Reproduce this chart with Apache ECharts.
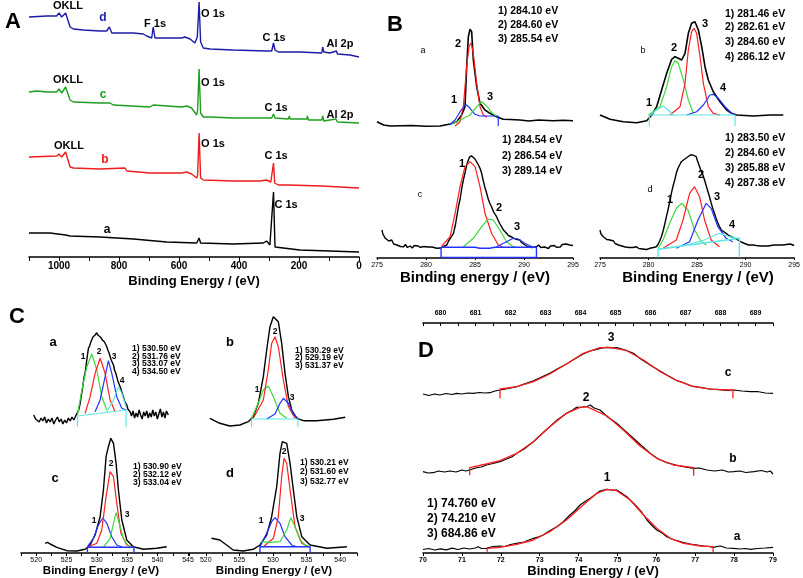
<!DOCTYPE html>
<html>
<head>
<meta charset="utf-8">
<script src="https://cdn.jsdelivr.net/npm/echarts@6/dist/echarts.min.js"></script>
<style>
  html, body { margin: 0; padding: 0; background: #fff; }
  #chart { width: 803px; height: 578px; }
</style>
</head>
<body>
<div id="chart"></div>
<script>
"use strict";
// ---- A: survey spectra [binding energy, intensity a.u.] ----
var surveyD = [[1100,240],[1041,241],[1008,241],[1000,244],[991,240],[978,244],[963,230],[952,228],[919,227],[863,226],[841,226],[832,230],[824,224],[752,224],[719,223],[708,221],[691,219],[686,230],[680,219],[619,219],[591,219],[580,220],[563,218],[547,214],[539,220],[533,255],[528,215],[524,217],[519,209],[497,208],[419,207],[308,206],[291,206],[285,214],[280,207],[269,205],[197,205],[124,204],[121,210],[117,205],[97,204],[75,206],[72,203],[30,202],[0,200]];
var surveyC = [[1100,165],[1074,166],[1041,165],[1008,165],[1000,168],[991,164],[978,170],[963,157],[952,155],[863,154],[830,154],[819,152],[697,150],[686,152],[680,150],[591,150],[574,151],[558,149],[541,142],[538,147],[533,188],[528,144],[524,145],[519,140],[497,140],[419,139],[291,139],[285,143],[280,139],[236,138],[232,141],[230,138],[174,138],[172,141],[169,137],[124,137],[121,141],[117,136],[77,138],[72,135],[0,134]];
var surveyB = [[1100,100],[1008,101],[1000,103],[991,100],[978,105],[963,90],[952,89],[863,88],[780,89],[774,86],[697,84],[591,84],[574,85],[558,83],[541,79],[538,82],[533,124],[528,79],[519,77],[419,76],[330,76],[308,77],[294,75],[288,74],[285,94],[281,74],[269,72],[236,72],[232,74],[230,71],[124,71],[0,69]];
var surveyA = [[1100,24],[1030,24],[978,22],[974,24],[963,21],[863,20],[752,18],[641,15],[541,14],[533,19],[528,14],[419,13],[319,14],[308,16],[297,12],[291,10],[285,65],[280,10],[274,9],[197,7],[0,5]];

// ---- B: C 1s fits ----
var bA_raw = [[275,8.3],[275.68,5],[276.36,4],[278.5,4.5],[280,3.8],[281.44,4],[282.46,6],[283.14,8.3],[283.64,15],[283.98,23.3],[284.15,63.3],[284.32,93.3],[284.49,100.7],[284.66,98.3],[284.83,70],[285.17,43.3],[285.51,26.7],[286.02,20],[286.53,16.7],[287.2,13.3],[287.88,10.7],[288.6,10.5],[289.58,10],[290.5,9],[291.5,10],[292.97,9.3],[294,9.8],[295,9.3]];
var bA_p1 = [[282.36,5],[282.97,10],[283.47,18.3],[283.92,24],[284.15,25],[284.49,21.7],[285.0,15.7],[285.51,14],[287.37,14],[287.37,4]];
var bA_p2 = [[282.97,4],[283.47,8.3],[283.81,23.3],[284.15,63.3],[284.39,83.3],[284.59,87.3],[284.83,76.7],[285.17,46.7],[285.51,23.3],[285.85,15],[286.19,12.7]];
var bA_p3 = [[282.63,6],[283.47,10],[284.49,15],[285.17,23.3],[285.68,28.3],[286.19,24],[286.69,17.3],[287.2,14]];

var bB_raw = [[275,15],[276.03,10.7],[277.39,8.3],[278.76,7.3],[279.79,9.3],[280.3,15],[280.81,23.3],[281.32,40],[281.84,56.7],[282.35,70.7],[282.69,73.3],[283.03,71.7],[283.38,70],[283.72,76.7],[284.06,96.7],[284.4,106.7],[284.74,108.3],[285.09,100],[285.43,83.3],[285.77,63.3],[286.11,50],[286.62,38.3],[287.31,28.3],[287.99,20],[288.5,16.7],[289.02,15],[290.73,14],[292.44,15],[293.8,15]];
var bB_p1 = [[280.13,15],[280.81,20],[281.5,24],[282.01,20],[282.52,15]];
var bB_p2 = [[279.96,15],[281.15,23.3],[281.84,43.3],[282.35,63.3],[282.69,69.3],[283.03,66.7],[283.55,50],[284.06,30],[284.57,16.7]];
var bB_p3 = [[282.18,15],[283.21,23.3],[283.72,46.7],[284.06,80],[284.4,98.3],[284.64,101.7],[284.91,96.7],[285.26,73.3],[285.6,46.7],[286.11,23.3],[286.62,16.7],[287.31,15]];
var bB_p4 = [[283.89,15],[284.91,18.3],[285.6,25],[286.28,35],[286.62,35.7],[287.14,31.7],[287.82,23.3],[288.5,16.7],[288.85,15]];
var bB_base = [[280.06,4],[280.06,15],[288.85,15],[288.85,4]];

var bC_raw = [[275.51,28],[275.6,24],[275.7,26],[275.85,19.7],[276.0,21],[276.2,17],[276.36,16.3],[276.5,18],[276.7,14],[276.85,15.5],[277.03,13],[277.2,15],[277.4,11.5],[277.55,13.5],[277.71,11.3],[277.9,13.5],[278.1,10.5],[278.25,12.5],[278.39,12],[278.6,10],[278.8,12.5],[279.0,10.5],[279.2,12],[279.41,10.7],[279.6,9],[279.8,11.5],[280.0,9.5],[280.2,11],[280.4,9],[280.6,11],[280.8,9],[281.1,9.7],[281.3,11],[281.5,10],[281.8,11.5],[282.12,13],[282.3,17],[282.5,20],[282.8,24.7],[283.0,33],[283.15,42],[283.31,51.3],[283.5,60],[283.65,70],[283.81,78],[284.0,86],[284.15,93],[284.32,98],[284.45,101],[284.55,103],[284.66,102],[284.8,101],[285.0,99],[285.17,98],[285.35,93],[285.5,90],[285.68,84.7],[285.85,77],[286.0,71],[286.19,64.7],[286.35,59],[286.5,55],[286.69,51.3],[286.9,46],[287.05,44],[287.2,41.3],[287.4,37],[287.55,34],[287.71,31.3],[287.9,28],[288.05,26.5],[288.22,24.7],[288.4,22.5],[288.6,23],[288.75,21],[288.9,21.3],[289.1,19],[289.3,20],[289.58,18],[289.75,15.5],[289.95,16],[290.1,13],[290.25,13],[290.45,11],[290.6,13],[290.8,10.5],[291.0,12],[291.27,11.3],[291.5,13],[291.7,10.5],[291.9,12.5],[292.1,11],[292.29,12],[292.5,9.5],[292.7,12],[292.9,10.5],[293.1,12.5],[293.31,10.7],[293.5,12.5],[293.7,11],[293.9,13.5],[294.1,11.5],[294.3,14],[294.5,12],[294.66,13],[294.8,11.5],[295.0,12.5]];
var bC_p1 = [[281.61,12],[282.46,21.3],[282.97,44.7],[283.47,71.3],[283.98,91.3],[284.49,96.3],[285.0,91.3],[285.51,71.3],[286.02,44.7],[286.69,24.7],[287.37,13],[287.88,10.7]];
var bC_p2 = [[283.81,11.3],[284.83,19.7],[285.68,31.3],[286.36,39],[286.86,38],[287.54,28],[288.22,16.3],[288.9,11.3],[289.24,10.7]];
var bC_p3 = [[287.2,11.3],[288.22,16.3],[288.9,19.7],[289.41,19],[290.08,14.7],[290.93,10.7]];
var bC_base = [[281.54,0.5],[281.54,10.7],[285.0,10.7],[285.5,9.7],[286.5,9.7],[287.0,10.7],[291.27,10.7],[291.27,0.5],[281.54,0.5]];

var bD_raw = [[275.0,28],[275.1,24],[275.2,25],[275.34,21.3],[275.5,22],[275.7,18.5],[275.85,19.5],[276.03,18],[276.2,16],[276.4,17],[276.55,14.5],[276.71,14.7],[276.9,13],[277.1,14.5],[277.25,12],[277.39,13],[277.6,11],[277.8,12.5],[278.0,10.5],[278.2,12],[278.4,10.5],[278.6,12],[278.76,11.3],[279.0,9.5],[279.2,11],[279.4,9],[279.6,10.5],[279.8,8.5],[280.0,10],[280.13,9.7],[280.3,8.5],[280.5,10.5],[280.65,9],[280.81,11.3],[281.0,14],[281.15,17],[281.32,21.3],[281.5,27],[281.65,33],[281.84,41.3],[282.0,48],[282.2,57],[282.35,64.7],[282.5,71],[282.7,78],[282.86,84.7],[283.0,89],[283.2,93],[283.38,96.3],[283.6,98],[283.8,100],[284.06,101.3],[284.3,103],[284.45,104],[284.57,103],[284.7,102],[284.91,101.3],[285.05,97],[285.26,91.3],[285.45,86],[285.6,83],[285.77,78],[285.95,72],[286.1,67],[286.28,61.3],[286.45,55],[286.6,50],[286.79,44.7],[286.95,40],[287.1,36],[287.31,31.3],[287.5,28],[287.7,27],[287.99,24.7],[288.2,23],[288.35,22],[288.5,21.3],[288.7,21],[288.85,20],[289.02,19.7],[289.2,18],[289.4,18.5],[289.55,16],[289.7,16.3],[289.9,14.5],[290.1,15],[290.3,13],[290.5,14],[290.73,13],[290.9,11.5],[291.1,12.5],[291.3,10.5],[291.5,12],[291.7,10.5],[291.9,12],[292.1,10],[292.3,12],[292.44,11.3],[292.6,12.5],[292.8,11],[293.0,13],[293.2,11.5],[293.4,13],[293.6,12],[293.8,13],[294.0,11.5],[294.2,13.5],[294.4,12],[294.6,14],[294.8,12],[295.0,12.5]];
var bD_p1 = [[280.98,9.7],[281.5,18],[282.18,34.7],[282.86,49.7],[283.44,54.7],[284.06,48],[284.74,28],[285.43,16.3],[285.94,13]];
var bD_p2 = [[281.5,9.7],[282.86,18],[283.55,38],[284.23,64.7],[284.74,71.3],[285.26,61.3],[285.77,38],[286.45,18],[287.31,11.3]];
var bD_p3 = [[282.86,9.7],[284.23,16.3],[285.09,38],[285.94,54.7],[286.45,49.7],[287.14,31.3],[287.99,19.7],[288.68,16.3]];
var bD_p4 = [[280.98,8.7],[283.89,13],[285.6,17.3],[286.62,22],[287.31,24.7],[288.33,21.3],[289.36,19.7]];
var bD_base = [[280.98,0.5],[280.98,8.7],[289.36,19.7],[289.36,0.5]];

// ---- C: O 1s fits ----
var cA_raw = [[519.6,15],[519.9,11],[520.2,13],[520.5,8],[520.8,12],[521.1,9],[521.4,13],[521.7,7],[522.0,11],[522.3,8],[522.6,12],[522.9,6],[523.2,10],[523.5,13],[523.8,8],[524.1,11],[524.4,6],[524.7,10],[525.0,7],[525.3,12],[525.6,9],[525.9,13],[526.2,10],[526.5,14],[526.8,15],[527.0,20],[527.24,26.7],[527.45,35],[527.65,42],[527.85,52],[528.06,56.7],[528.25,66],[528.4,73],[528.6,81.7],[528.8,84],[529.0,88],[529.16,90],[529.35,93],[529.5,91],[529.7,95],[529.85,97],[529.98,97.3],[530.15,95],[530.3,96],[530.53,93.3],[530.7,94],[530.9,90],[531.07,91.7],[531.25,88],[531.45,86],[531.63,83.3],[531.8,80],[532.0,77],[532.17,75],[532.35,70],[532.55,68],[532.73,65],[532.9,60],[533.1,57],[533.27,53.3],[533.45,49],[533.65,46],[533.82,43.3],[534.0,40],[534.2,36],[534.36,33.3],[534.55,29],[534.75,27],[534.92,25],[535.1,21],[535.3,20],[535.46,18.3],[535.7,14],[535.95,19],[536.2,12],[536.45,17],[536.7,13],[536.95,20],[537.2,15],[537.45,11],[537.7,18],[537.95,14],[538.2,19],[538.45,12],[538.7,17],[538.95,13],[539.2,20],[539.45,14],[539.7,18],[539.95,11],[540.2,16],[540.45,21],[540.7,13],[540.95,18],[541.2,12],[541.45,19],[541.76,15]];
var cA_p1 = [[526.8,15],[527.52,40],[528.34,63.3],[529.16,76],[529.98,60],[530.8,33.3],[531.63,20]];
var cA_p2 = [[528.06,16.7],[528.88,33.3],[529.7,56.7],[530.53,71.7],[531.35,56.7],[532.17,30],[532.99,18.3]];
var cA_p3 = [[529.7,18.3],[530.53,30],[531.35,53.3],[531.89,69.3],[532.45,56.7],[533.27,33.3],[534.1,21.7],[534.8,20]];
var cA_p4 = [[531.63,18.3],[532.73,30],[533.54,43.3],[534.1,36.7],[534.8,23.3]];
var cA_base = [[526.8,3.3],[526.8,14],[534.8,20],[534.8,3.3]];

var cB_raw = [[520.6,11.7],[522.09,6.7],[523.58,4],[525.07,5],[526.32,8.3],[527.06,13.3],[527.81,26.7],[528.56,53.3],[529.06,80],[529.55,103.3],[530.05,113.3],[530.3,114],[530.79,108.3],[531.29,86.7],[531.79,56.7],[532.29,33.3],[532.79,20],[533.54,11.7],[534.53,9.3],[536.52,9.3],[539.0,10.7],[540.75,12.7]];
var cB_p1 = [[526.82,11.7],[527.81,26.7],[528.56,40],[529.3,44],[530.05,33.3],[531.04,16.7],[532.04,11.7]];
var cB_p2 = [[527.06,11.7],[528.56,30],[529.3,60],[529.8,86.7],[530.3,93.3],[530.79,83.3],[531.54,50],[532.29,23.3],[533.28,11.7]];
var cB_p3 = [[529.06,11],[530.3,16],[531.04,26.7],[531.54,31.7],[532.29,26.7],[533.03,16],[533.69,11.7]];
var cB_base = [[526.8,3.3],[526.8,11],[533.7,11],[533.7,3.3]];

var cC_raw = [[521.48,9.7],[521.86,10.7],[522.3,9],[523.4,5.7],[525.05,2.3],[526.69,2],[528.06,3.7],[528.88,8],[529.7,18],[530.53,36.3],[531.07,63],[531.51,96.3],[531.89,106.3],[532.29,114.7],[532.73,109.7],[533.16,89.7],[533.54,63],[534.1,33],[534.92,13],[536.0,6.3],[537.65,3.7],[539.85,4.7],[541.5,6.3]];
var cC_p1 = [[528.44,6.3],[529.43,14.7],[530.25,28],[530.97,35],[531.63,29.7],[532.45,16.3],[533.27,8],[534.1,6.3]];
var cC_p2 = [[528.44,5.7],[529.98,9.7],[530.8,23],[531.51,56.3],[532.17,81.3],[532.73,76.3],[533.27,49.7],[533.96,19.7],[534.92,8],[536.0,5.7]];
var cC_p3 = [[531.07,5.7],[532.17,14.7],[532.73,29.7],[533.16,40.3],[533.68,29.7],[534.36,14.7],[535.18,7],[536.0,5.7]];
var cC_base = [[528.44,0.3],[528.44,5.7],[536.1,5.7],[536.1,0.3]];

var cD_raw = [[520.85,14.7],[522.09,13],[523.09,8],[524.07,3],[525.57,2],[527.06,3.7],[528.06,8],[529.06,18],[529.8,36.3],[530.55,66.3],[531.04,99.7],[531.39,111.3],[531.64,113],[532.04,109.7],[532.54,89.7],[533.03,63],[533.54,36.3],[534.28,16.3],[535.52,8],[538.01,4.7],[541.0,6.3]];
var cD_p1 = [[528.06,6.3],[529.06,19.7],[529.8,31.3],[530.3,35.3],[531.04,29.7],[531.79,16.3],[532.79,8],[533.54,6.3]];
var cD_p2 = [[528.56,6.3],[530.05,14.7],[530.79,36.3],[531.29,76.3],[531.64,94.7],[532.04,89.7],[532.54,63],[533.28,26.3],[534.28,9.7],[535.27,6.3]];
var cD_p3 = [[528.16,11.3],[529.55,10.7],[531.04,11.3],[532.04,23],[532.64,35.3],[533.28,26.3],[534.03,13],[534.78,8],[535.52,6.3]];
var cD_base = [[528.06,0.3],[528.06,6.3],[535.52,6.3],[535.52,0.3]];

// ---- D: Al 2p / F 1s ----
var dA_raw = [[70.0,3.5],[70.15,4.5],[70.3,3],[70.45,4.2],[70.6,3.2],[70.75,4.8],[70.9,3.5],[71.05,5],[71.2,4],[71.35,5],[71.42,6.3],[71.5,4.5],[71.63,4.7],[71.8,6.5],[71.98,7],[72.1,6.5],[72.25,8.5],[72.41,9.7],[72.6,11],[72.84,14.7],[73.0,16.5],[73.09,18],[73.25,22],[73.44,26.3],[73.6,31],[73.78,38],[73.9,42],[74.04,48],[74.15,51],[74.3,54.7],[74.45,59],[74.55,62],[74.65,63],[74.73,63.7],[74.85,63],[74.98,63],[75.1,60],[75.24,56.3],[75.35,52],[75.5,46.3],[75.62,41],[75.76,33],[75.9,27],[76.01,23],[76.15,20],[76.27,16.3],[76.4,14],[76.53,12.3],[76.7,10.5],[76.87,9],[77.05,8],[77.22,7],[77.35,6.5],[77.47,5.7],[77.56,6.5],[77.65,7],[77.8,5],[77.99,4.7],[78.15,4],[78.3,4.5],[78.42,3.7],[78.6,4.5],[78.8,5],[79.0,5.7]];
var dA_fit = [[71.65,1.3],[71.65,4.7],[71.98,5.7],[72.41,8.7],[72.84,13],[73.26,21.3],[73.69,33],[74.12,48],[74.47,59.7],[74.73,63.7],[74.98,62.3],[75.33,53],[75.67,38],[76.01,24.7],[76.36,14.7],[76.7,9.7],[77.13,7],[77.46,6.3],[77.46,0.7]];
var dB_raw = [[70.0,81.3],[70.13,80],[70.26,80.3],[70.4,82],[70.55,81],[70.69,82],[70.85,81],[71.0,83],[71.1,82],[71.2,83],[71.35,85],[71.5,86],[71.63,88],[71.8,89.5],[71.98,91.3],[72.15,94],[72.28,96],[72.41,99.7],[72.6,104],[72.84,111.3],[73.05,119],[73.26,126.3],[73.45,133],[73.69,139.7],[73.85,143],[73.95,145.7],[74.1,146],[74.21,146.3],[74.3,148],[74.4,145],[74.55,143],[74.75,136],[74.98,129.7],[75.2,122],[75.41,114.7],[75.6,108],[75.84,99.7],[76.05,94],[76.27,90.3],[76.5,88],[76.7,86.3],[76.96,84.7],[77.1,85],[77.3,83],[77.5,82],[77.7,83],[77.85,81],[77.99,81.3],[78.15,82],[78.3,80.5],[78.51,81.3],[78.7,82.5],[78.85,81],[78.93,82],[79.0,79]];
var dB_fit = [[71.2,77.7],[71.2,85.3],[71.63,89],[71.98,92.3],[72.41,99.7],[72.84,111.3],[73.26,126.3],[73.69,139.7],[74.04,145.7],[74.21,146.3],[74.73,137],[75.15,123],[75.58,107],[76.01,94.7],[76.44,88],[76.96,85.3],[76.96,77.3]];
var dC_raw = [[70.0,159],[70.15,157.5],[70.3,159],[70.43,158],[70.6,159.5],[70.75,158.5],[70.86,159.7],[71.0,159],[71.15,160],[71.29,159.7],[71.45,160.5],[71.6,160],[71.72,160.3],[71.85,162],[71.98,163],[72.2,164.5],[72.41,166.3],[72.6,169],[72.84,172.3],[73.05,176],[73.26,179.7],[73.45,184],[73.69,189],[73.9,194],[74.12,199],[74.3,202],[74.47,203.7],[74.6,205],[74.73,205.7],[74.85,205],[74.98,205.3],[75.2,203],[75.41,199.7],[75.6,194],[75.84,188],[76.05,183],[76.27,178],[76.5,173],[76.7,170.3],[76.9,167],[77.13,165.7],[77.35,164],[77.56,163.7],[77.8,162.5],[77.99,163],[78.2,162],[78.42,161.3],[78.6,161.5],[78.8,160],[79.0,159.7]];
var dC_fit = [[71.98,154.7],[71.98,164],[72.41,166.3],[72.84,171.3],[73.26,179],[73.69,189],[74.12,199.7],[74.55,205.3],[74.81,205.7],[75.24,202.3],[75.67,193],[76.1,181.3],[76.53,172.3],[76.96,166.3],[77.47,163.7],[77.97,163],[77.97,154.7]];

// ---- tick labels ----
var surveyTicks = [1000, 800, 600, 400, 200, 0];
var fsTopTicks = [680, 681, 682, 683, 684, 685, 686, 687, 688, 689];

var FONT = '"Liberation Sans", Arial, sans-serif';
var RED = '#ff1e1e', GREEN = '#3fd83f', BLUE = '#2432ff', CYAN = '#5ee6e6';

var chart = echarts.init(document.getElementById('chart'));

var grids = [
    {left: 29, top: 0, width: 330, height: 257},     // A
    {left: 377, top: 0, width: 196, height: 130},    // B a
    {left: 600, top: 0, width: 195, height: 130},    // B b
    {left: 377, top: 130, width: 196, height: 128},  // B c
    {left: 600, top: 130, width: 195, height: 128},  // B d
    {left: 21, top: 290, width: 167, height: 140},   // C a
    {left: 189, top: 290, width: 168, height: 140},  // C b
    {left: 21, top: 430, width: 167, height: 123},   // C c
    {left: 189, top: 430, width: 168, height: 123},  // C d
    {left: 423, top: 323, width: 350, height: 230}   // D
];
var yMax = [257, 130, 130, 128, 128, 140, 140, 123, 123, 230];

function axisBase(gi, min, max, show) {
    return {
        type: 'value', gridIndex: gi, min: min, max: max, show: show,
        splitLine: {show: false},
        axisLine: {show: true, onZero: false, lineStyle: {color: '#000', width: 1.5}},
        axisTick: {show: true, length: 3, lineStyle: {color: '#000', width: 1}},
        axisLabel: {color: '#000', fontFamily: FONT, fontSize: 7, margin: 4}
    };
}

var xAxes = [];
// A
var ax = axisBase(0, 0, 1100, true);
ax.inverse = true; ax.interval = 100;
ax.axisTick.length = 4;
ax.axisLabel = {color: '#000', fontFamily: FONT, fontSize: 10, fontWeight: 'bold', margin: 4,
    formatter: function (v) { return surveyTicks.indexOf(v) >= 0 ? String(v) : ''; }};
xAxes.push(ax);
// B
xAxes.push(axisBase(1, 275, 295, false));
xAxes.push(axisBase(2, 275, 295, false));
ax = axisBase(3, 275, 295, true); ax.interval = 5; ax.axisTick.length = 2; xAxes.push(ax);
ax = axisBase(4, 275, 295, true); ax.interval = 5; ax.axisTick.length = 2; xAxes.push(ax);
// C
function cFmt(v) { return v % 5 === 0 ? String(v) : ''; }
xAxes.push(axisBase(5, 517.5, 545, false));
xAxes.push(axisBase(6, 517.5, 542.5, false));
ax = axisBase(7, 517.5, 545, true); ax.interval = 2.5; ax.axisLabel.formatter = cFmt; xAxes.push(ax);
ax = axisBase(8, 517.5, 542.5, true); ax.interval = 2.5; ax.axisLabel.formatter = cFmt; xAxes.push(ax);
// D bottom and top
ax = axisBase(9, 70, 79, true); ax.interval = 1; ax.axisLabel.fontWeight = 'bold'; xAxes.push(ax);
ax = axisBase(9, 679.5, 689.5, true); ax.position = 'top'; ax.interval = 0.5;
ax.axisTick.inside = true; ax.axisLabel.fontWeight = 'bold'; ax.axisLabel.margin = 6;
ax.axisLabel.formatter = function (v) { return fsTopTicks.indexOf(v) >= 0 ? String(v) : ''; };
xAxes.push(ax);

var yAxes = grids.map(function (g, i) {
    return {type: 'value', gridIndex: i, min: 0, max: yMax[i], show: false, splitLine: {show: false}};
});

function ln(data, gi, color, w) {
    return {
        type: 'line', xAxisIndex: gi, yAxisIndex: gi, data: data,
        symbol: 'none', silent: true, animation: false,
        lineStyle: {color: color, width: w || 1.2}
    };
}

var series = [
    ln(surveyD, 0, '#1c1ca8', 1.4), ln(surveyC, 0, '#1e9e1e', 1.4),
    ln(surveyB, 0, '#ee1c1c', 1.4), ln(surveyA, 0, '#000', 1.4),

    ln(bA_raw, 1, '#000', 1.6), ln(bA_p2, 1, RED), ln(bA_p1, 1, BLUE), ln(bA_p3, 1, GREEN),
    ln(bB_raw, 2, '#000', 1.6), ln(bB_p2, 2, GREEN), ln(bB_p3, 2, RED), ln(bB_p1, 2, CYAN),
    ln(bB_p4, 2, BLUE), ln(bB_base, 2, CYAN),
    ln(bC_raw, 3, '#000', 1.4), ln(bC_p1, 3, RED), ln(bC_p2, 3, GREEN), ln(bC_p3, 3, BLUE),
    ln(bC_base, 3, BLUE, 1.4),
    ln(bD_raw, 4, '#000', 1.4), ln(bD_p1, 4, GREEN), ln(bD_p2, 4, RED), ln(bD_p3, 4, BLUE),
    ln(bD_p4, 4, CYAN), ln(bD_base, 4, CYAN, 1.4),

    ln(cA_raw, 5, '#000', 1.4), ln(cA_p1, 5, GREEN), ln(cA_p2, 5, RED), ln(cA_p3, 5, BLUE),
    ln(cA_p4, 5, CYAN), ln(cA_base, 5, CYAN),
    ln(cB_raw, 6, '#000', 1.4), ln(cB_p1, 6, GREEN), ln(cB_p2, 6, RED), ln(cB_p3, 6, BLUE),
    ln(cB_base, 6, CYAN),
    ln(cC_raw, 7, '#000', 1.4), ln(cC_p1, 7, BLUE), ln(cC_p2, 7, RED), ln(cC_p3, 7, GREEN),
    ln(cC_base, 7, BLUE, 1.4),
    ln(cD_raw, 8, '#000', 1.4), ln(cD_p1, 8, BLUE), ln(cD_p2, 8, RED), ln(cD_p3, 8, GREEN),
    ln(cD_base, 8, BLUE, 1.4),

    ln(dA_raw, 9, '#000', 1.2), ln(dA_fit, 9, RED, 1.3),
    ln(dB_raw, 9, '#000', 1.2), ln(dB_fit, 9, RED, 1.3),
    ln(dC_raw, 9, '#000', 1.2), ln(dC_fit, 9, RED, 1.3)
];

function txt(s, x, y, size, color, bold, align) {
    return {
        type: 'text', x: x, y: y, silent: true, z: 100,
        style: {
            text: s, fill: color || '#000',
            font: (bold === false ? '' : 'bold ') + size + 'px ' + FONT,
            textAlign: align || 'center', textVerticalAlign: 'middle'
        }
    };
}

var labels = [
    // A
    txt('A', 13, 22, 22), txt('Binding Energy / (eV)', 194, 281, 13),
    txt('OKLL', 68, 6, 11), txt('d', 103, 18, 12, '#1c1ca8'), txt('F 1s', 155, 24, 11),
    txt('O 1s', 213, 14, 11), txt('C 1s', 274, 38, 11), txt('Al 2p', 340, 44, 11),
    txt('OKLL', 68, 80, 11), txt('c', 103, 95, 12, '#1e9e1e'), txt('O 1s', 213, 83, 11),
    txt('C 1s', 276, 108, 11), txt('Al 2p', 340, 115, 11),
    txt('OKLL', 69, 146, 11), txt('b', 105, 160, 12, '#ee1c1c'), txt('O 1s', 213, 144, 11),
    txt('C 1s', 276, 156, 11),
    txt('a', 107, 230, 12), txt('C 1s', 286, 205, 11),
    // B
    txt('B', 395, 25, 22), txt('Binding energy / (eV)', 475, 278, 15), txt('Binding Energy / (eV)', 698, 278, 15),
    txt('1) 284.10 eV', 498, 11, 10.5, '#000', true, 'left'),
    txt('2) 284.60 eV', 498, 25, 10.5, '#000', true, 'left'),
    txt('3) 285.54 eV', 498, 39, 10.5, '#000', true, 'left'),
    txt('a', 423, 51, 9, '#000', false), txt('2', 458, 44, 11), txt('1', 454, 100, 11), txt('3', 490, 97, 11),
    txt('1) 281.46 eV', 725, 14, 10.5, '#000', true, 'left'),
    txt('2) 282.61 eV', 725, 27, 10.5, '#000', true, 'left'),
    txt('3) 284.60 eV', 725, 42, 10.5, '#000', true, 'left'),
    txt('4) 286.12 eV', 725, 57, 10.5, '#000', true, 'left'),
    txt('b', 643, 51, 9, '#000', false), txt('2', 674, 48, 11), txt('3', 705, 24, 11),
    txt('4', 723, 88, 11), txt('1', 649, 103, 11),
    txt('1) 284.54 eV', 502, 140, 10.5, '#000', true, 'left'),
    txt('2) 286.54 eV', 502, 156, 10.5, '#000', true, 'left'),
    txt('3) 289.14 eV', 502, 171, 10.5, '#000', true, 'left'),
    txt('c', 420, 195, 9, '#000', false), txt('1', 462, 164, 11), txt('2', 499, 208, 11), txt('3', 517, 227, 11),
    txt('1) 283.50 eV', 725, 138, 10.5, '#000', true, 'left'),
    txt('2) 284.60 eV', 725, 153, 10.5, '#000', true, 'left'),
    txt('3) 285.88 eV', 725, 168, 10.5, '#000', true, 'left'),
    txt('4) 287.38 eV', 725, 183, 10.5, '#000', true, 'left'),
    txt('d', 650, 190, 9, '#000', false), txt('1', 670, 200, 11), txt('2', 701, 175, 11),
    txt('3', 717, 197, 11), txt('4', 732, 225, 11),
    // C
    txt('C', 17, 317, 22), txt('Binding Energy / (eV)', 101, 571, 11.5), txt('Binding Energy / (eV)', 274, 571, 11.5),
    txt('a', 53, 342, 13), txt('1', 83, 357, 8.5), txt('2', 99, 352, 8.5), txt('3', 114, 357, 8.5), txt('4', 122, 381, 8.5),
    txt('1) 530.50 eV', 132, 349, 8.5, '#000', true, 'left'),
    txt('2) 531.76 eV', 132, 357, 8.5, '#000', true, 'left'),
    txt('3) 533.07 eV', 132, 364, 8.5, '#000', true, 'left'),
    txt('4) 534.50 eV', 132, 372, 8.5, '#000', true, 'left'),
    txt('b', 230, 342, 13), txt('2', 275, 332, 8.5), txt('1', 257, 390, 8.5), txt('3', 292, 398, 8.5),
    txt('1) 530.29 eV', 295, 351, 8.5, '#000', true, 'left'),
    txt('2) 529.19 eV', 295, 358, 8.5, '#000', true, 'left'),
    txt('3) 531.37 eV', 295, 366, 8.5, '#000', true, 'left'),
    txt('c', 55, 478, 13), txt('2', 111, 464, 8.5), txt('1', 94, 521, 8.5), txt('3', 127, 515, 8.5),
    txt('1) 530.90 eV', 133, 467, 8.5, '#000', true, 'left'),
    txt('2) 532.12 eV', 133, 475, 8.5, '#000', true, 'left'),
    txt('3) 533.04 eV', 133, 483, 8.5, '#000', true, 'left'),
    txt('d', 230, 473, 13), txt('2', 284, 452, 8.5), txt('1', 261, 521, 8.5), txt('3', 302, 519, 8.5),
    txt('1) 530.21 eV', 300, 463, 8.5, '#000', true, 'left'),
    txt('2) 531.60 eV', 300, 472, 8.5, '#000', true, 'left'),
    txt('3) 532.77 eV', 300, 482, 8.5, '#000', true, 'left'),
    // D
    txt('D', 426, 351, 22), txt('Binding Energy / (eV)', 593, 571, 13),
    txt('3', 611, 338, 12), txt('c', 728, 373, 12), txt('2', 586, 398, 12), txt('b', 733, 459, 12),
    txt('1', 607, 478, 12), txt('a', 737, 537, 12),
    txt('1) 74.760 eV', 427, 504, 12, '#000', true, 'left'),
    txt('2) 74.210 eV', 427, 519, 12, '#000', true, 'left'),
    txt('3) 684.86 eV', 427, 534, 12, '#000', true, 'left')
];

chart.setOption({
    backgroundColor: '#fff',
    animation: false,
    grid: grids,
    xAxis: xAxes,
    yAxis: yAxes,
    series: series,
    graphic: {elements: labels}
});
</script>
</body>
</html>
